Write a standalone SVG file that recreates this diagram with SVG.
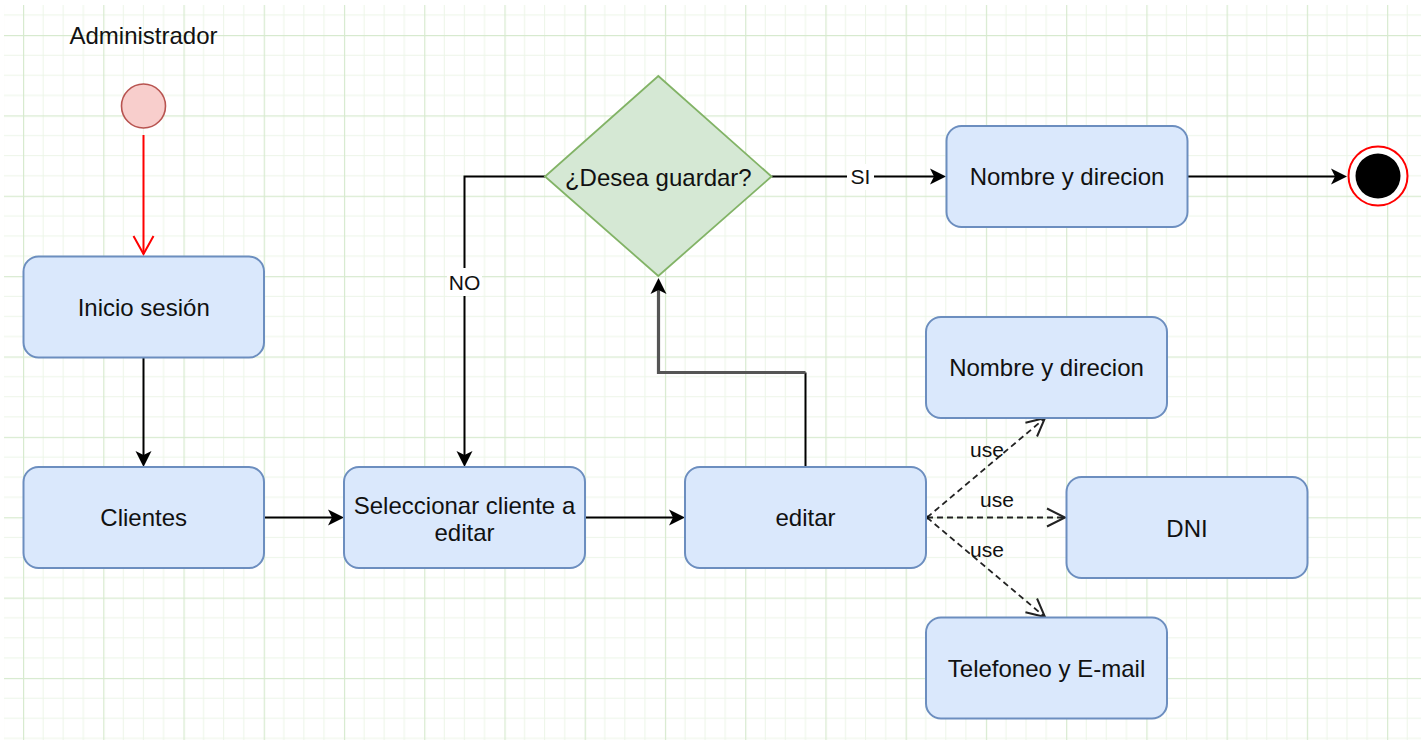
<svg xmlns="http://www.w3.org/2000/svg" width="1428" height="740" viewBox="0 0 1428 740">
  <style>
    .box { fill: #dae8fc; stroke: #6c8ebf; stroke-width: 2; }
    .lbl { font-family: "Liberation Sans", Arial, sans-serif; font-size: 24px; fill: #111; text-anchor: middle; }
    .elbl { font-family: "Liberation Sans", Arial, sans-serif; font-size: 21px; fill: #111; text-anchor: middle; }
    .edge { fill: none; stroke: #000; stroke-width: 2; }
    .dash { fill: none; stroke: #222; stroke-width: 1.8; stroke-dasharray: 6 4; }
  </style>
  <defs>
    <pattern id="grid" patternUnits="userSpaceOnUse" x="23" y="35" width="80.24" height="80.37">
      <rect x="19.6" y="0" width="1" height="80.37" fill="#ecf5e8"/>
      <rect x="39.7" y="0" width="1" height="80.37" fill="#ecf5e8"/>
      <rect x="59.8" y="0" width="1" height="80.37" fill="#ecf5e8"/>
      <rect x="0" y="19.7" width="80.24" height="1" fill="#ecf5e8"/>
      <rect x="0" y="39.8" width="80.24" height="1" fill="#ecf5e8"/>
      <rect x="0" y="59.9" width="80.24" height="1" fill="#ecf5e8"/>
      <rect x="0" y="0" width="1.2" height="80.37" fill="#d7eacf"/>
      <rect x="0" y="0" width="80.24" height="1.2" fill="#d7eacf"/>
    </pattern>
    <marker id="arrow" markerUnits="userSpaceOnUse" markerWidth="16" markerHeight="16" viewBox="0 0 16 16" refX="10" refY="8" orient="auto" overflow="visible">
      <path d="M0,0 L16,8 L0,16 L4,8 Z" fill="#000"/>
    </marker>
    <marker id="arrowGray" markerUnits="userSpaceOnUse" markerWidth="16" markerHeight="16" viewBox="0 0 16 16" refX="10" refY="8" orient="auto" overflow="visible">
      <path d="M0,0 L16,8 L0,16 L4,8 Z" fill="#000"/>
    </marker>
    <marker id="openRed" markerUnits="userSpaceOnUse" markerWidth="20" markerHeight="20" viewBox="0 0 20 20" refX="18" refY="10" orient="auto" overflow="visible">
      <path d="M0,0 L18,10 L0,20" fill="none" stroke="#ff0000" stroke-width="2"/>
    </marker>
    <marker id="openBlack" markerUnits="userSpaceOnUse" markerWidth="20" markerHeight="18" viewBox="0 0 20 18" refX="18" refY="9" orient="auto" overflow="visible">
      <path d="M0,0 L18,9 L0,18" fill="none" stroke="#222" stroke-width="2"/>
    </marker>
  </defs>

  <!-- page background with drawing grid -->
  <rect width="1428" height="740" fill="#fff"/>
  <rect x="4" y="5" width="1417" height="735" fill="url(#grid)"/>

  <!-- swimlane caption -->
  <text class="lbl" x="143.5" y="44">Administrador</text>

  <!-- connectors -->
  <g id="connectors">
    <path d="M143.5,135 V254" fill="none" stroke="#ff0000" stroke-width="2" marker-end="url(#openRed)"/>
    <path class="edge" d="M143.5,358 V461" marker-end="url(#arrow)"/>
    <path class="edge" d="M264,517.5 H338" marker-end="url(#arrow)"/>
    <path class="edge" d="M585,517.5 H679" marker-end="url(#arrow)"/>
    <path class="edge" d="M805.5,467 V372.5"/>
    <path d="M805.5,372.5 H658.5 V284" fill="none" stroke="#555" stroke-width="3.2" marker-end="url(#arrowGray)"/>
    <path class="edge" d="M545,176.5 H464.5 V461" marker-end="url(#arrow)"/>
    <path class="edge" d="M771.5,176.5 H940" marker-end="url(#arrow)"/>
    <path class="edge" d="M1188,176.5 H1341" marker-end="url(#arrow)"/>
    <path class="dash" d="M927,517.5 L1045,418" marker-end="url(#openBlack)"/>
    <path class="dash" d="M927,517.5 H1065" marker-end="url(#openBlack)"/>
    <path class="dash" d="M927,517.5 L1045,617" marker-end="url(#openBlack)"/>
    <circle cx="927" cy="517.5" r="2" fill="#111"/>

    <!-- edge labels -->
    <rect x="447" y="268" width="35" height="28" fill="#fff"/>
    <text class="elbl" x="464.5" y="290">NO</text>
    <rect x="847" y="164" width="27" height="26" fill="#fff"/>
    <text class="elbl" x="860.5" y="184">SI</text>
    <text class="elbl" x="987" y="457">use</text>
    <text class="elbl" x="997" y="507">use</text>
    <text class="elbl" x="987" y="557">use</text>
  </g>

  <!-- initial state -->
  <g id="start">
    <circle cx="143.5" cy="106" r="22" fill="#f8cecc" stroke="#b85450" stroke-width="1.6"/>
  </g>

  <g id="inicio-sesion">
    <rect class="box" x="23.5" y="256.5" width="240.5" height="101" rx="15"/>
    <text class="lbl" x="143.7" y="316">Inicio sesión</text>
  </g>

  <g id="clientes">
    <rect class="box" x="23.5" y="467" width="240.5" height="101" rx="15"/>
    <text class="lbl" x="143.7" y="526">Clientes</text>
  </g>

  <g id="seleccionar-cliente">
    <rect class="box" x="344" y="467" width="241" height="101" rx="15"/>
    <text class="lbl" x="464.5" y="513.5">Seleccionar cliente a</text>
    <text class="lbl" x="464.5" y="541">editar</text>
  </g>

  <g id="editar">
    <rect class="box" x="685" y="467" width="241" height="101" rx="15"/>
    <text class="lbl" x="805.5" y="526">editar</text>
  </g>

  <g id="desea-guardar">
    <path d="M658.3,76 L771.5,176.5 L658.3,276 L545,176.5 Z" fill="#d5e8d4" stroke="#82b366" stroke-width="1.8"/>
    <text class="lbl" x="658.3" y="186">¿Desea guardar?</text>
  </g>

  <g id="nombre-direcion-guardar">
    <rect class="box" x="946.5" y="126" width="241" height="101" rx="15"/>
    <text class="lbl" x="1067" y="185">Nombre y direcion</text>
  </g>

  <!-- final state -->
  <g id="end">
    <circle cx="1378" cy="176" r="29.5" fill="#fff" stroke="#ff0000" stroke-width="2"/>
    <circle cx="1378" cy="176" r="22.5" fill="#000"/>
  </g>

  <g id="nombre-direcion">
    <rect class="box" x="926" y="317" width="241" height="101" rx="15"/>
    <text class="lbl" x="1046.5" y="376">Nombre y direcion</text>
  </g>

  <g id="dni">
    <rect class="box" x="1066.5" y="477" width="241" height="101" rx="15"/>
    <text class="lbl" x="1187" y="537">DNI</text>
  </g>

  <g id="telefono-email">
    <rect class="box" x="926" y="617.5" width="241" height="101" rx="15"/>
    <text class="lbl" x="1046.5" y="677">Telefoneo y E-mail</text>
  </g>
</svg>
